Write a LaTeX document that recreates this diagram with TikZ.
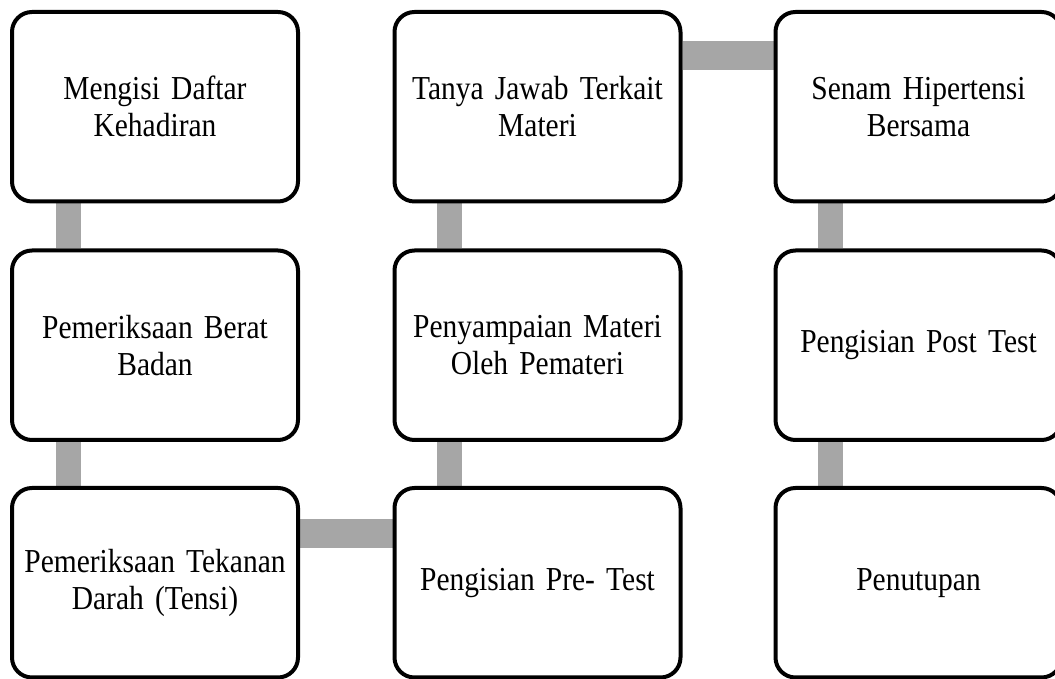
\documentclass[tikz,border=0pt]{standalone}
\usepackage{fontspec}
\setmainfont[FakeStretch=0.88]{Liberation Serif}
\usetikzlibrary{backgrounds}
\newcommand\stepboxfont{\fontsize{33.5}{37}\selectfont\fontdimen2\font 5pt\relax}
\begin{document}
\begin{tikzpicture}[x=1pt,y=1pt,
  stepbox/.style={draw=black, line width=4pt, rounded corners=20pt, fill=white,
    minimum width=286pt, minimum height=189.5pt, inner sep=0pt,
    align=center, text width=280pt,
    font=\stepboxfont},
  vlink/.style={draw=linkgray, line width=25pt},
  hlink/.style={draw=linkgray, line width=29pt}]
\definecolor{linkgray}{HTML}{A6A6A6}
\useasboundingbox (0,0) rectangle (1055,679);
\clip (0,0) rectangle (1055,679);
% columns: centres at x = 155, 537.5, 918.5 ; rows: centres at y = 679-106.75, 679-345.25, 679-582.75
\node[stepbox] (a1) at (155,572.25) {Mengisi Daftar\\Kehadiran};
\node[stepbox] (a2) at (155,333.75) {Pemeriksaan Berat\\Badan};
\node[stepbox] (a3) at (155,96.25) {Pemeriksaan Tekanan\\Darah (Tensi)};
\node[stepbox] (b3) at (537.5,96.25) {Pengisian Pre- Test};
\node[stepbox] (b2) at (537.5,333.75) {Penyampaian Materi\\Oleh Pemateri};
\node[stepbox] (b1) at (537.5,572.25) {Tanya Jawab Terkait\\Materi};
\node[stepbox] (c1) at (918.5,572.25) {Senam Hipertensi\\Bersama};
\node[stepbox] (c2) at (918.5,333.75) {Pengisian Post Test};
\node[stepbox] (c3) at (918.5,96.25) {Penutupan};
\begin{scope}[on background layer]
\draw[vlink] ([xshift=58.5pt]a1.south west) -- ([xshift=58.5pt]a2.north west);
\draw[vlink] ([xshift=58.5pt]a2.south west) -- ([xshift=58.5pt]a3.north west);
\draw[hlink] ([yshift=-48pt]a3.north east) -- ([yshift=-48pt]b3.north west);
\draw[vlink] ([xshift=57pt]b3.north west) -- ([xshift=57pt]b2.south west);
\draw[vlink] ([xshift=57pt]b2.north west) -- ([xshift=57pt]b1.south west);
\draw[hlink] ([yshift=-45.5pt]b1.north east) -- ([yshift=-45.5pt]c1.north west);
\draw[vlink] ([xshift=57pt]c1.south west) -- ([xshift=57pt]c2.north west);
\draw[vlink] ([xshift=57pt]c2.south west) -- ([xshift=57pt]c3.north west);
\end{scope}
\end{tikzpicture}
\end{document}
